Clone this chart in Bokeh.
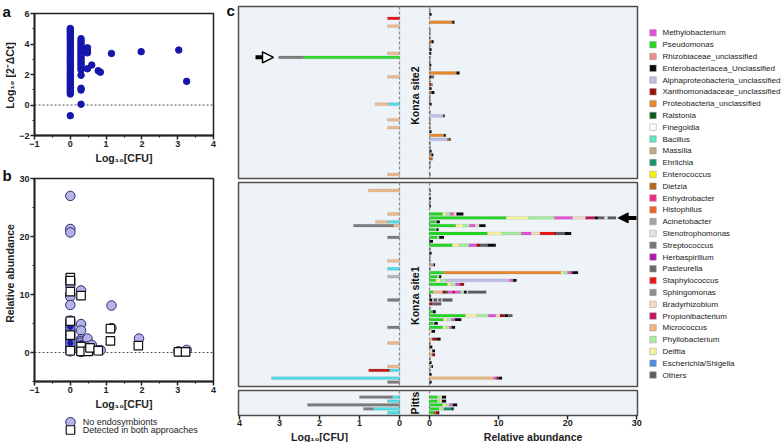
import math
from bokeh.plotting import figure
from bokeh.layouts import row, column
from bokeh.models import (Range1d, LinearAxis, FixedTicker, Span, Label, Arrow,
                          NormalHead, ColumnDataSource)
from bokeh.core.properties import value
from bokeh.embed import file_html
from bokeh.resources import INLINE

FONT = "Liberation Sans"
INK = "#222222"

# ---------------- panel a : Log10[2^-dCt] vs Log10[CFU] ----------------
A_GROUPS = [
    (0.0, [-0.7, 0.72, 0.82, 0.92, 1.02, 1.12, 1.22, 1.32, 1.42, 1.55, 1.65, 1.75, 1.85,
           1.95, 2.05, 2.18, 2.3, 2.42, 2.55, 2.68, 2.8, 2.92, 3.05, 3.18, 3.3, 3.42, 3.55,
           3.68, 3.8, 3.92, 4.05, 4.18, 4.3, 4.42, 4.55, 4.65, 4.75, 4.85, 4.95, 5.02]),
    (0.3, [0.05, 0.98, 1.1, 1.95, 2.3, 2.42, 2.55, 2.68, 2.8, 2.92, 3.05, 3.18, 3.3, 3.42,
           3.55, 3.68, 3.8, 3.92, 4.05, 4.2, 4.35]),
    (0.48, [2.38, 3.42, 3.6, 3.75]),
    (0.6, [2.62]),
    (0.78, [2.25]),
    (0.84, [2.15]),
    (1.15, [3.38]),
    (1.98, [3.5]),
    (3.03, [3.6]),
    (3.25, [1.55]),
]
A_YLABEL = "Log₁₀ [2⁻ΔCt]"
X_LABEL = "Log₁₀[CFU]"

# ---------------- panel b : relative abundance vs Log10[CFU] ----------------
B_CIRCLES = [
    (0.0, [27.0, 21.3, 20.7, 12.6, 12.0, 11.6, 10.0, 9.6, 8.2, 5.5, 5.0, 4.6, 4.2, 3.8, 3.4,
           3.0, 2.6, 2.2, 1.8, 1.4, 1.0, 0.6, 0.2]),
    (0.3, [10.7, 4.9, 3.8, 2.3, 2.0, 1.7, 1.3, 0.9, 0.5, 0.1]),
    (0.48, [2.4, 1.1]),
    (0.6, [1.3, 0.6]),
    (0.78, [0.4]),
    (0.85, [0.4]),
    (1.15, [8.1, 4.2]),
    (1.92, [2.4]),
    (3.02, [0.2]),
    (3.25, [0.45]),
]
B_DARK = [
    (0.0, [0.4, 1.6, 2.4, 3.2, 4.4, 5.2]),
    (0.3, [0.2, 1.5]),
]
B_SQUARES = [
    (0.0, [12.9, 12.4, 10.5, 5.4, 3.0, 0.3]),
    (0.3, [9.8, 1.0, 0.2]),
    (0.5, [0.2]),
    (0.55, [0.8]),
    (0.78, [0.3]),
    (1.12, [4.1, 2.0]),
    (1.9, [1.2]),
    (3.02, [0.1]),
    (3.22, [0.1]),
]
B_YLABEL = "Relative abundance"
B_LEGEND = ["No endosymbionts", "Detected in both approaches"]

# ---------------- panel c : taxa ----------------
TAXA = ["Methylobacterium", "Pseudomonas", "Rhizobiaceae_unclassified",
        "Enterobacteriacea_Unclassified", "Alphaproteobacteria_unclassified",
        "Xanthomonadaceae_unclassified", "Proteobacteria_unclassified", "Ralstonia",
        "Finegoldia", "Bacillus", "Massilia", "Ehrlichia", "Enterococcus", "Dietzia",
        "Enhydrobacter", "Histophilus", "Acinetobacter", "Stenotrophomonas", "Streptococcus",
        "Herbaspirillum", "Pasteurella", "Staphylococcus", "Sphingomonas", "Bradyrhizobium",
        "Propionibacterium", "Micrococcus", "Phyllobacterium", "Delftia",
        "Escherichia/Shigella", "Others"]
TAXA_COLORS = ["#E550D8", "#22D822", "#EE8C8C", "#0A0A0A", "#BDBDEA", "#9B1010", "#E8872C",
               "#0D5A1E", "#FFFFFF", "#62E6C2", "#B9AA88", "#16936B", "#F2F20A", "#B5651D",
               "#EE2A82", "#EE6422", "#A3A3A3", "#E2E2E2", "#777777", "#B215B2", "#6A6A6A",
               "#EE1414", "#8E8E8E", "#F4DCC2", "#C2125C", "#EEB77F", "#A6EDA0", "#F6F3A2",
               "#4C8EE0", "#5E5E5E"]
CODE = {"Met": "Methylobacterium", "Ps": "Pseudomonas", "Ent": "Enterobacteriacea_Unclassified",
        "Alp": "Alphaproteobacteria_unclassified", "Xan": "Xanthomonadaceae_unclassified",
        "Pro": "Proteobacteria_unclassified", "Ral": "Ralstonia", "Mas": "Massilia",
        "Ehr": "Ehrlichia", "Die": "Dietzia", "Enh": "Enhydrobacter", "Ste": "Stenotrophomonas",
        "Sta": "Staphylococcus", "Bra": "Bradyrhizobium", "Prp": "Propionibacterium",
        "Mic": "Micrococcus", "Phy": "Phyllobacterium", "Del": "Delftia", "Oth": "Others"}

# colony counts (left side), colours of cultured isolates
CFU_COLORS = {"Mic": "#EDBB8E", "Bac": "#4FDDE6", "Str": "#7D7D7D", "Aci": "#B4B4B4",
              "Sta": "#E8141A", "Ps": "#2EDB2E", "Xan": "#C41A1A"}

SITE2_CFU = [(2, [("Sta", 0.3)]), (4, [("Mic", 0.3)]), (11, [("Mic", 0.3)]),
             (12, [("Ps", 2.4), ("Str", 0.62)]), (17, [("Mic", 0.3)]),
             (24, [("Bac", 0.28), ("Mic", 0.33)]), (28, [("Mic", 0.3)]), (30, [("Mic", 0.3)]),
             (42, [("Mic", 0.3)])]
SITE2_RA = [(0, [("Oth", 0.15)]), (1, [("Ent", 0.3)]), (3, [("Pro", 3.3), ("Ent", 0.3)]),
            (5, [("Oth", 0.15)]), (6, [("Oth", 0.15)]), (7, [("Oth", 0.15)]),
            (8, [("Die", 0.3), ("Ent", 0.3)]), (9, [("Oth", 0.15)]), (10, [("Ent", 0.3)]),
            (11, [("Ent", 0.25)]), (12, [("Oth", 0.15)]), (13, [("Oth", 0.15)]),
            (14, [("Ent", 0.25)]), (15, [("Oth", 0.2)]), (16, [("Pro", 3.9), ("Ent", 0.45)]),
            (17, [("Ent", 0.3), ("Oth", 0.35)]), (18, [("Oth", 0.15)]),
            (19, [("Xan", 0.25), ("Die", 0.2)]), (20, [("Ent", 0.3)]),
            (21, [("Die", 0.3), ("Ent", 0.4)]), (22, [("Oth", 0.15)]), (23, [("Oth", 0.15)]),
            (24, [("Ent", 0.3)]), (26, [("Oth", 0.15)]), (27, [("Alp", 2.0), ("Ent", 0.2)]),
            (28, [("Oth", 0.15)]), (29, [("Oth", 0.15)]), (30, [("Oth", 0.15)]),
            (31, [("Ent", 0.3)]), (32, [("Pro", 2.1), ("Ent", 0.25)]),
            (33, [("Alp", 2.6), ("Die", 0.3), ("Ent", 0.15)]), (34, [("Oth", 0.15)]),
            (35, [("Oth", 0.15)]), (36, [("Ent", 0.3)]), (37, [("Die", 0.3), ("Ent", 0.25)]),
            (38, [("Die", 0.45)]), (39, [("Oth", 0.15)]), (40, [("Oth", 0.15)]),
            (42, [("Oth", 0.15)])]

SITE1_CFU = [(0, [("Mic", 0.78)]), (6, [("Mic", 0.3)]), (8, [("Bac", 0.3), ("Mic", 0.3)]),
             (9, [("Mic", 0.15), ("Str", 1.0)]), (12, [("Str", 0.3)]), (18, [("Mic", 0.3)]),
             (20, [("Bac", 0.3)]), (22, [("Aci", 0.3)]), (28, [("Str", 0.3)]),
             (35, [("Str", 0.3)]), (39, [("Mic", 0.3)]), (45, [("Mic", 0.3)]),
             (46, [("Bac", 0.25), ("Xan", 0.52)]), (48, [("Bac", 3.2)]), (49, [("Str", 0.3)])]
SITE1_RA = [
    (0, [("Oth", 0.2)]), (1, [("Oth", 0.15)]), (2, [("Ent", 0.2)]), (3, [("Oth", 0.15)]),
    (4, [("Ent", 0.2)]),
    (6, [("Ps", 1.9), ("Del", 0.5), ("Phy", 0.6), ("Met", 0.5), ("Bra", 0.4), ("Ent", 1.0)]),
    (7, [("Ps", 11.1), ("Del", 3.2), ("Phy", 3.8), ("Met", 2.6), ("Bra", 1.9), ("Prp", 1.3),
         ("Ent", 0.5), ("Oth", 0.9), ("Ste", 0.5), ("Oth", 1.2)]),
    (8, [("Ps", 0.8), ("Phy", 0.2), ("Ent", 0.5)]),
    (9, [("Ps", 3.8), ("Del", 1.1), ("Phy", 0.9), ("Met", 0.8), ("Bra", 0.6), ("Ent", 0.9)]),
    (10, [("Ps", 0.8), ("Phy", 0.2), ("Ent", 0.3)]),
    (11, [("Ps", 8.4), ("Del", 2.1), ("Phy", 2.8), ("Met", 1.4), ("Bra", 1.3), ("Sta", 2.0),
          ("Xan", 0.4), ("Oth", 1.2), ("Ent", 0.9)]),
    (12, [("Ps", 1.1), ("Phy", 0.3), ("Ent", 0.7)]),
    (13, [("Ent", 0.5)]),
    (14, [("Ps", 3.3), ("Del", 1.0), ("Phy", 1.4), ("Met", 1.1), ("Xan", 0.6), ("Oth", 1.0),
          ("Ent", 1.2)]),
    (15, [("Oth", 0.15)]), (16, [("Ent", 0.3)]), (17, [("Oth", 0.15)]), (18, [("Oth", 0.15)]),
    (19, [("Mas", 0.6), ("Ent", 0.2)]), (20, [("Oth", 0.15)]),
    (21, [("Ps", 2.0), ("Pro", 17.0), ("Del", 0.4), ("Phy", 0.6), ("Met", 0.5), ("Xan", 0.2),
          ("Ent", 0.8)]),
    (22, [("Ps", 1.1), ("Phy", 0.3), ("Ent", 0.3)]),
    (23, [("Ps", 0.9), ("Del", 0.7), ("Phy", 0.8), ("Alp", 9.2), ("Met", 0.5), ("Ent", 0.5)]),
    (24, [("Ps", 2.6), ("Del", 0.5), ("Phy", 0.7), ("Met", 0.6), ("Xan", 0.6)]),
    (26, [("Ps", 0.5), ("Mic", 1.4), ("Xan", 0.5), ("Oth", 0.3), ("Met", 0.6), ("Prp", 0.4),
          ("Met", 0.8), ("Phy", 0.5), ("Ent", 0.4), ("Ste", 0.2), ("Oth", 2.6)]),
    (27, [("Ent", 0.2)]),
    (28, [("Ent", 0.4), ("Ste", 0.2), ("Oth", 0.5), ("Ste", 0.2), ("Oth", 0.4), ("Ste", 0.2),
          ("Oth", 1.4)]),
    (29, [("Xan", 0.4), ("Oth", 0.5), ("Prp", 0.3), ("Oth", 0.5)]),
    (30, [("Oth", 0.15)]), (31, [("Ps", 0.5), ("Ent", 0.4)]),
    (32, [("Ps", 5.2), ("Del", 1.7), ("Phy", 1.6), ("Met", 1.1), ("Bra", 0.6), ("Xan", 0.7),
          ("Ent", 0.5), ("Oth", 0.6)]),
    (33, [("Ps", 2.0), ("Del", 0.6), ("Phy", 0.6), ("Met", 0.5), ("Ent", 0.9)]),
    (34, [("Ps", 0.5), ("Phy", 0.2), ("Ent", 0.5)]),
    (35, [("Ps", 1.9), ("Del", 0.5), ("Phy", 0.5), ("Met", 0.3), ("Ent", 0.5)]),
    (36, [("Bra", 0.3), ("Ent", 0.5)]),
    (38, [("Mic", 0.4), ("Xan", 0.7), ("Ent", 0.5)]),
    (39, [("Oth", 0.15)]), (40, [("Ent", 0.4)]), (41, [("Bra", 0.4), ("Ent", 0.4)]),
    (42, [("Mic", 0.4), ("Xan", 0.4)]), (43, [("Oth", 0.15)]), (44, [("Ent", 0.3)]),
    (45, [("Mas", 0.3), ("Ent", 0.2)]), (46, [("Oth", 0.15)]), (47, [("Ent", 0.3)]),
    (48, [("Mic", 9.3), ("Met", 0.4), ("Xan", 0.3), ("Ent", 0.5)]), (49, [("Ent", 0.3)]),
]

PITTS_CFU = [(0, [("Bac", 0.18), ("Str", 0.82)]), (1, [("Bac", 0.3)]), (2, [("Str", 2.3)]),
             (3, [("Bac", 0.65), ("Str", 0.25)]), (4, [("Bac", 0.3)])]
PITTS_RA = [(0, [("Ps", 1.1), ("Phy", 0.4), ("Del", 0.3), ("Ent", 0.6)]),
            (1, [("Ps", 1.1), ("Phy", 0.4), ("Del", 0.3), ("Ent", 0.6)]),
            (2, [("Ps", 1.9), ("Del", 0.5), ("Phy", 0.5), ("Met", 0.5), ("Ent", 0.6)]),
            (3, [("Ps", 1.4), ("Del", 0.3), ("Phy", 0.4), ("Ehr", 1.0), ("Ral", 0.2), ("Ent", 0.2)]),
            (4, [("Ps", 0.6), ("Die", 0.3), ("Xan", 0.3), ("Ent", 0.2)])]

SITES = ["Konza site2", "Konza site1", "Pitts"]
CFU_TICKS = [4, 3, 2, 1, 0]
RA_TICKS = [0, 10, 20, 30]
C_XLABELS = ["Log₁₀[CFU]", "Relative abundance"]

# ------------------------------------------------------------------
TAXA_COLOR = dict(zip(TAXA, TAXA_COLORS))


def style_axis(ax, label_size="10.5px"):
    ax.axis_line_width = 1.8
    ax.axis_line_color = INK
    ax.major_tick_line_width = 1.5
    ax.major_tick_line_color = INK
    ax.major_tick_out = 4
    ax.major_tick_in = 0
    ax.minor_tick_out = 2
    ax.minor_tick_in = 0
    ax.minor_tick_line_width = 1.2
    ax.minor_tick_line_color = INK
    ax.major_label_text_font = FONT
    ax.major_label_text_font_style = "bold"
    ax.major_label_text_font_size = "9px"
    ax.major_label_text_color = INK
    ax.axis_label_text_font = FONT
    ax.axis_label_text_font_style = "bold"
    ax.axis_label_text_font_size = label_size
    ax.axis_label_text_color = INK
    ax.major_label_standoff = 1
    ax.axis_label_standoff = 2


def flatten(groups):
    xs, ys = [], []
    for x, vals in groups:
        for v in vals:
            xs.append(x)
            ys.append(v)
    return xs, ys


def blank(width, height, xr, yr):
    p = figure(width=width, height=height, x_range=xr, y_range=yr, output_backend="svg",
               toolbar_location=None, min_border=0, x_axis_location=None,
               y_axis_location=None, outline_line_color=None)
    p.grid.visible = False
    return p


# ---------------- strip with panel letters a, b and y titles ----------------
strip = blank(16, 442, Range1d(0, 16), Range1d(442, 0))
strip.text(x=[2, 2], y=[10.5, 175], text=["a", "b"], text_font=value(FONT),
           text_font_style="bold", text_font_size="15px", text_baseline="alphabetic",
           text_color="#111111")
strip.text(x=[9, 9], y=[75, 273], text=[A_YLABEL, B_YLABEL], angle=math.pi / 2,
           text_font=value(FONT), text_font_style="bold", text_font_size="10.5px",
           text_align="center", text_baseline="middle", text_color=INK)

# ---------------- figure a ----------------
fa = figure(width=204, height=172, x_range=Range1d(-1, 4), y_range=Range1d(-2, 6),
            output_backend="svg", toolbar_location=None,
            min_border_left=16, min_border_right=7, min_border_top=13, min_border_bottom=37,
            outline_line_color=INK, outline_line_width=1.5)
fa.grid.visible = False
fa.xaxis.ticker = FixedTicker(ticks=[-1, 0, 1, 2, 3, 4], minor_ticks=[-0.5, 0.5, 1.5, 2.5, 3.5])
fa.yaxis.ticker = FixedTicker(ticks=[-2, 0, 2, 4, 6], minor_ticks=[-1, 1, 3, 5])
fa.xaxis.axis_label = X_LABEL
for ax in fa.xaxis + fa.yaxis:
    style_axis(ax)
fa.add_layout(Span(location=0, dimension="width", line_color="#555555", line_dash="2 2",
                   line_width=1.2, level="underlay"))
ax_x, ax_y = flatten(A_GROUPS)
fa.scatter(ax_x, ax_y, size=6.5, fill_color="#1616AA", line_color="#1616AA")

# ---------------- figure b ----------------
fb = figure(width=204, height=240, x_range=Range1d(-1, 4), y_range=Range1d(-5, 30),
            output_backend="svg", toolbar_location=None,
            min_border_left=16, min_border_right=7, min_border_top=6, min_border_bottom=31,
            outline_line_color=INK, outline_line_width=1.5)
fb.grid.visible = False
fb.xaxis.ticker = FixedTicker(ticks=[-1, 0, 1, 2, 3, 4], minor_ticks=[-0.5, 0.5, 1.5, 2.5, 3.5])
fb.yaxis.ticker = FixedTicker(ticks=[0, 10, 20, 30], minor_ticks=[-5, 5, 15, 25])
fb.xaxis.axis_label = X_LABEL
for ax in fb.xaxis + fb.yaxis:
    style_axis(ax)
fb.add_layout(Span(location=0, dimension="width", line_color="#555555", line_dash="2 2",
                   line_width=1.2, level="underlay"))
bx, by = flatten(B_CIRCLES)
fb.scatter(bx, by, size=9.5, fill_color="#B6B3E8", line_color="#2A2A70", line_width=1.0)
dx, dy = flatten(B_DARK)
fb.scatter(dx, dy, size=5, fill_color="#1616AA", line_color="#1616AA")
sx, sy = flatten(B_SQUARES)
fb.scatter(sx, sy, marker="square", size=8.5, fill_color="white", line_color="#111111",
           line_width=1.2)

# legend of panel b
fbl = blank(204, 30, Range1d(0, 204), Range1d(30, 0))
fbl.scatter([41], [9.7], size=9.5, fill_color="#B6B3E8", line_color="#2A2A70", line_width=1.0)
fbl.scatter([41], [17.5], marker="square", size=8.5, fill_color="white", line_color="#111111",
            line_width=1.2)
fbl.text(x=[55, 55], y=[9.7, 17.5], text=B_LEGEND, text_font=value(FONT),
         text_font_size="9px", text_baseline="middle", text_color=INK)

# ---------------- strip with panel letter c ----------------
cstrip = blank(16, 442, Range1d(0, 16), Range1d(442, 0))
cstrip.text(x=[6], y=[9.5], text=["c"], text_font=value(FONT), text_font_style="bold",
            text_font_size="15px", text_baseline="alphabetic", text_color="#111111")

# ---------------- panel c ----------------
CFU_START, CFU_END = 4.025, -5.95
RA_END = 30.1
RA_START = -RA_END * 191.0 / 208.0


def ra_to_main(v):
    return CFU_START + (v - RA_START) * (CFU_END - CFU_START) / (RA_END - RA_START)


def stack(rows, colors):
    ys, lefts, rights, cols = [], [], [], []
    for r, segs in rows:
        acc = 0.0
        for code, v in segs:
            ys.append(r)
            lefts.append(acc)
            rights.append(acc + v)
            cols.append(colors(code))
            acc += v
    return ColumnDataSource(dict(y=ys, left=lefts, right=rights, color=cols))


def panel_c(h, top, bottom, y_start, y_end, cfu_rows, ra_rows, site, site_row):
    p = figure(width=407, height=h, x_range=Range1d(CFU_START, CFU_END),
               y_range=Range1d(y_start, y_end), output_backend="svg", toolbar_location=None,
               x_axis_location=None, y_axis_location=None,
               min_border_left=2, min_border_right=6, min_border_top=top,
               min_border_bottom=bottom, background_fill_color="#EEF3F7",
               border_fill_color="white", outline_line_color="#505050",
               outline_line_width=1.5)
    p.extra_x_ranges = {"ra": Range1d(RA_START, RA_END)}
    p.grid.visible = False
    p.add_layout(Span(location=0, dimension="height", line_color="#8C8C8C",
                      line_dash="3 2", line_width=1.3, level="underlay"))
    p.add_layout(Span(location=0, dimension="height", line_color="#8C8C8C",
                      line_dash="3 2", line_width=1.3, level="underlay", x_range_name="ra"))
    p.hbar(y="y", left="left", right="right", height=0.72, fill_color="color",
           line_color="#555555", line_alpha=0.35, line_width=0.4,
           source=stack(cfu_rows, lambda c: CFU_COLORS[c]))
    p.hbar(y="y", left="left", right="right", height=0.72, fill_color="color",
           line_color="#555555", line_alpha=0.35, line_width=0.4, x_range_name="ra",
           source=stack(ra_rows, lambda c: TAXA_COLOR[CODE[c]]))
    p.add_layout(Label(x=-0.375, y=site_row, text=site, angle=90, angle_units="deg",
                       text_align="center", text_baseline="middle", text_font=FONT,
                       text_font_style="bold", text_font_size="10.5px", text_color="#111111"))
    return p


c1 = panel_c(180, 6, 2, 43.03, -1.03, SITE2_CFU, SITE2_RA, SITES[0], 21.8)
c2 = panel_c(208, 2, 2, 50.12, -2.05, SITE1_CFU, SITE1_RA, SITES[1], 26.9)
c3 = panel_c(42, 2, 15, 4.7, -1.7, PITTS_CFU, PITTS_RA, SITES[2], 1.5)

c1.add_layout(Arrow(end=NormalHead(size=11, fill_color="white", line_color="black",
                                   line_width=1.5),
                    x_start=3.6, y_start=12, x_end=3.15, y_end=12,
                    line_width=4, line_color="black"))
c2.add_layout(Arrow(end=NormalHead(size=10, fill_color="black", line_color="black",
                                   line_width=1),
                    x_start=29.95, y_start=7, x_end=27.3, y_end=7, x_range_name="ra",
                    line_width=4, line_color="black"))

ticks = list(CFU_TICKS) + [ra_to_main(v) for v in RA_TICKS]
overrides = {float(t): str(t) for t in CFU_TICKS}
overrides.update({ra_to_main(v): str(v) for v in RA_TICKS})
bax = LinearAxis(ticker=FixedTicker(ticks=ticks), major_label_overrides=overrides)
style_axis(bax)
bax.axis_line_color = None
bax.major_tick_out = 4
bax.major_label_standoff = 0
c3.add_layout(bax, "below")

# axis titles of panel c
cl = blank(407, 12, Range1d(CFU_START, CFU_END), Range1d(0, 12))
cl.min_border_left = 2
cl.min_border_right = 6
cl.extra_x_ranges = {"ra": Range1d(RA_START, RA_END)}
cl.text(x=[2.0], y=[6], text=[C_XLABELS[0]], text_font=value(FONT), text_font_style="bold",
        text_font_size="10.5px", text_align="center", text_baseline="middle", text_color=INK)
cl.text(x=[15.0], y=[6], text=[C_XLABELS[1]], x_range_name="ra", text_font=value(FONT),
        text_font_style="bold", text_font_size="10.5px", text_align="center",
        text_baseline="middle", text_color=INK)

# ---------------- legend of panel c ----------------
fl = blank(141, 442, Range1d(0, 141), Range1d(34.72, -2.74))
idx = list(range(len(TAXA)))
fl.scatter(x=[9.5] * len(TAXA), y=idx, marker="square", size=6.5, fill_color=TAXA_COLORS,
           line_color="#9A9A9A", line_width=0.5)
fl.text(x=[19] * len(TAXA), y=idx, text=TAXA, text_font=value(FONT), text_font_size="8.0px",
        text_baseline="middle", text_color=INK)

root = row(strip, column(fa, fb, fbl), cstrip, column(c1, c2, c3, cl), fl)
open("out.html", "w").write(file_html(root, INLINE))
